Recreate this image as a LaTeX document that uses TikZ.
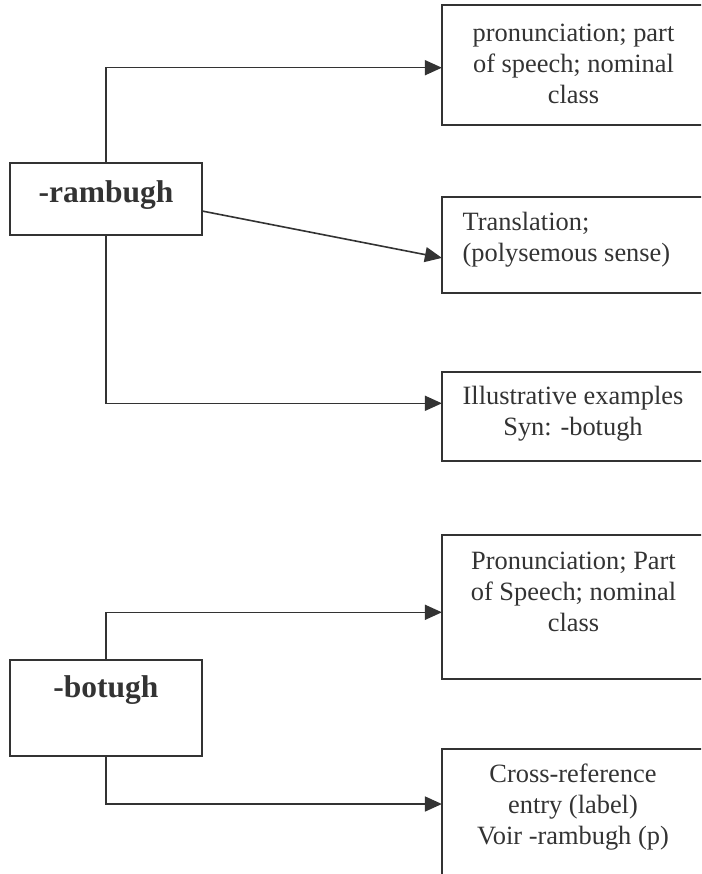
\documentclass[tikz,border=0pt]{standalone}
\usepackage{fontspec}
\setmainfont{Liberation Serif}
\usetikzlibrary{arrows.meta}
\definecolor{ink}{HTML}{333333}
\begin{document}
\begin{tikzpicture}[x=1pt,y=-1pt,
  every node/.style={inner sep=0pt,outer sep=0pt,text=ink},
  box/.style={draw=ink,line width=1.9pt,rectangle,minimum width=263pt},
  headbox/.style={draw=ink,line width=1.9pt,rectangle,minimum width=192pt},
  body/.style={font=\fontsize{26.4}{31}\selectfont},
  head/.style={font=\fontsize{31.5}{36}\selectfont\bfseries},
  conn/.style={draw=ink,line width=1.6pt,-{Triangle[length=17pt,width=15pt]}}]
  \useasboundingbox (0,0) rectangle (701,874);
  \clip (0,0) rectangle (701,874);

  % entry -rambugh and its three fields
  \node[headbox,minimum height=72pt] (ram) at (106,199) {};
  \node[head] (ramtxt) at (106,195) {-rambugh};
  \node[box,minimum height=120pt] (A) at (573.4,64.7) {};
  \node[body,align=center] (Atxt) at (573.5,64) {pronunciation; part\\of speech; nominal\\class};
  \node[box,minimum height=96.3pt] (B) at (573.4,244.9) {};
  \node[body,align=left,anchor=west] (Btxt) at (462.7,240) {Translation;\\(polysemous sense)};
  \node[box,minimum height=88.7pt] (C) at (573.4,416.7) {};
  \node[body,align=center] (Ctxt) at (573,414) {Illustrative examples\\Syn: -botugh};

  \draw[conn] (ram.north) |- ([yshift=-3pt]A.west);
  \draw[conn] ([yshift=-12pt]ram.east) -- ([yshift=-13pt]B.west);
  \draw[conn] (ram.south) |- ([yshift=13.4pt]C.west);

  % entry -botugh and its two fields
  \node[headbox,minimum height=96pt] (bot) at (106,708) {};
  \node[head] (bottxt) at (106,690) {-botugh};
  \node[box,minimum height=144pt] (D) at (573.4,607) {};
  \node[body,align=center] (Dtxt) at (573.5,592) {Pronunciation; Part\\of Speech; nominal\\class};
  \node[box,minimum height=151.3pt] (E) at (573.4,824.3) {};
  \node[body,align=center] (Etxt) at (573,806.7) {Cross-reference\\entry (label)\\Voir -rambugh (p)};

  \draw[conn] (bot.north) |- ([yshift=-5.3pt]D.west);
  \draw[conn] (bot.south) |- ([yshift=20.3pt]E.west);
\end{tikzpicture}
\end{document}
